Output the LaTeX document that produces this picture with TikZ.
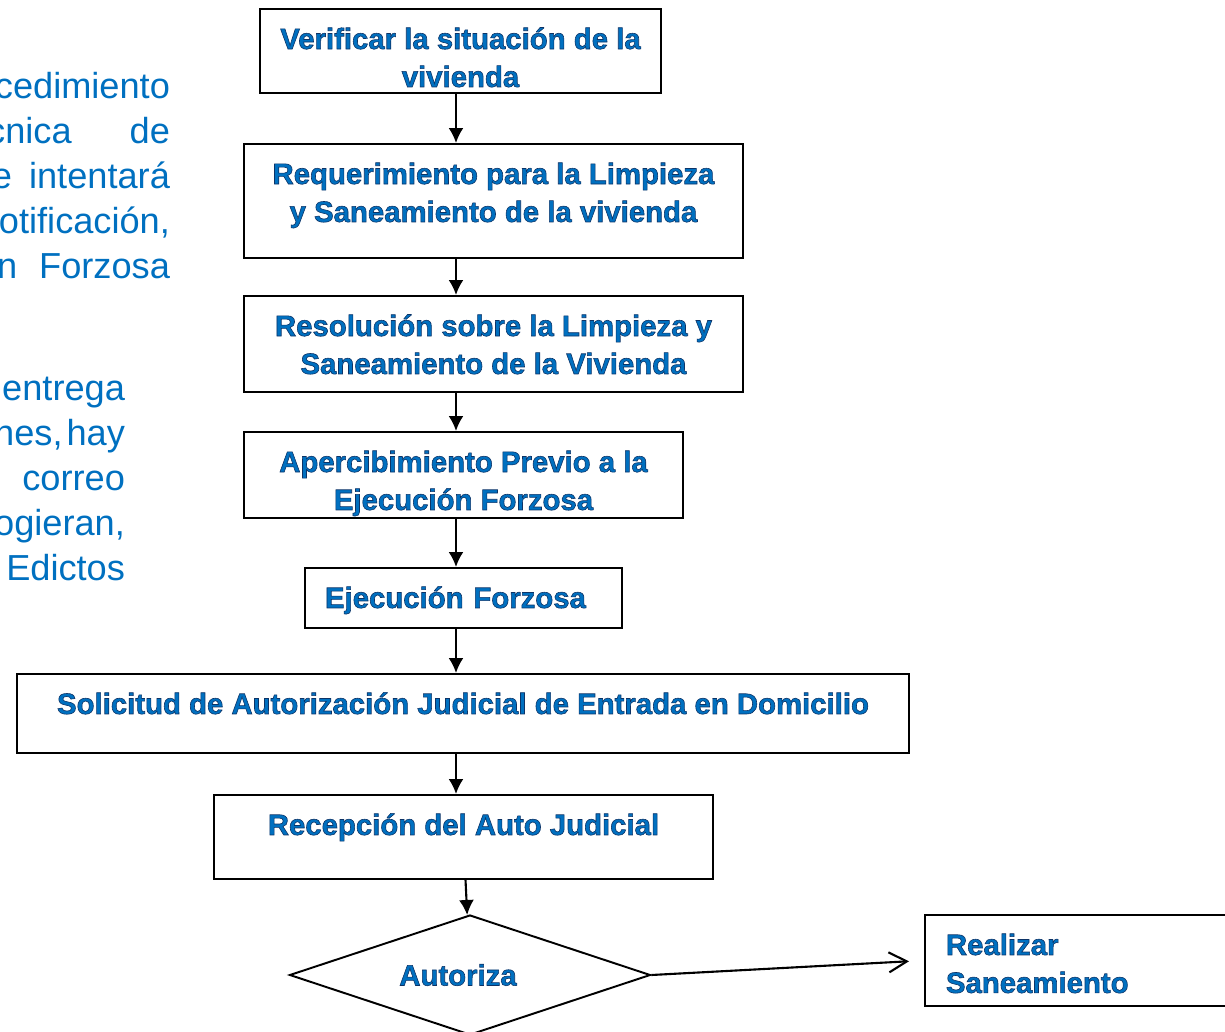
\documentclass[tikz,border=0pt]{standalone}
\usepackage{fontspec}
\setmainfont{Liberation Sans}
\newfontfamily\stepfont[BoldFeatures={FakeBold=2}]{Liberation Sans}
\usetikzlibrary{arrows.meta,positioning,shapes.geometric,calc}
\definecolor{stepblue}{RGB}{0,112,192}
\definecolor{noteblue}{RGB}{0,112,192}
% blue letters with a dark edge
\newcommand{\edged}{\color{stepblue}\special{pdf:literal direct 0.05 0.2 0.4 RG}}
\tikzset{
  box/.style={draw,line width=1.1pt,anchor=north,inner ysep=0pt,inner xsep=0pt,
    text height=0.8cm,align=center,
    font=\fontsize{16.7}{21.6}\selectfont\stepfont\bfseries\edged},
  twolines/.style={text height=1.56cm},
  decision/.style={draw,diamond,aspect=3,line width=1.1pt,inner sep=0pt,
    font=\fontsize{16.7}{21.6}\selectfont\stepfont\bfseries\edged},
  note/.style={text=noteblue,inner sep=0pt,align=right,
    font=\fontsize{20.6}{25.6}\selectfont}
}

\begin{document}
\begin{tikzpicture}[x=0.02cm,y=-0.02cm,>={Latex[length=3mm,width=3mm]},line width=1.2pt]
  \useasboundingbox (0,0) rectangle (1225,1032);
  \coordinate (axis) at (456,0);
  % text cut at the left border
  \node[note,anchor=base east] (note-a) at (171,278) {cedimiento\\ cnica\hspace{1.16cm}de\\
    e\hspace{0.34cm}intentará\\ otificación,\\ n\hspace{0.44cm}Forzosa};
  \node[note,anchor=base east] (note-b) at (126,580) {entrega\\ nes,\hspace{0.08cm}hay\\
    correo\\ ogieran,\\ Edictos};
  % steps
  \node[box,twolines,minimum width=8.02cm,text depth=0.12cm] (check) at (460.5,8) {Verificar la situación de la\\vivienda};
  \node[box,twolines,minimum width=9.98cm,text depth=0.72cm] (req) at (493.5,143) {Requerimiento para la Limpieza\\y Saneamiento de la vivienda};
  \node[box,twolines,minimum width=9.98cm,text depth=0.36cm] (res) at (493.5,295) {Resolución sobre la Limpieza y\\Saneamiento de la Vivienda};
  \node[box,twolines,minimum width=8.78cm,text depth=0.16cm] (warn) at (463.5,431) {Apercibimiento Previo a la\\Ejecución Forzosa};
  \node[box,align=left,text width=5.54cm,inner xsep=0.4cm,text depth=0.4cm] (exec) at (463.5,567) {Ejecución Forzosa};
  \node[box,minimum width=17.84cm,text depth=0.78cm] (court) at (463,673) {Solicitud de Autorización Judicial de Entrada en Domicilio};
  \node[box,minimum width=9.98cm,text depth=0.88cm] (recv) at (463.5,794) {Recepción del Auto Judicial};
  \node[decision,minimum width=7.22cm,minimum height=2.4cm] (auth) at (470,975) {Autoriza\rule{0.48cm}{0pt}};
  \node[box,anchor=north west,align=left,text width=5.56cm,inner xsep=0.42cm,text depth=1.02cm] (clean) at (924,914) {Realizar\\Saneamiento};
  % connectors
  \path[->] (check.south -| axis) edge (req.north -| axis);
  \path[->] (req.south -| axis) edge (res.north -| axis);
  \path[->] (res.south -| axis) edge (warn.north -| axis);
  \path[->] (warn.south -| axis) edge (exec.north -| axis);
  \path[->] (exec.south -| axis) edge (court.north -| axis);
  \path[->] (court.south -| axis) edge (recv.north -| axis);
  \path[->] (recv) edge (auth);
  \path[-{Straight Barb[length=0.36cm,width=0.4cm]},shorten >=0.3cm] (auth.east) edge (clean.west);
\end{tikzpicture}
\end{document}
